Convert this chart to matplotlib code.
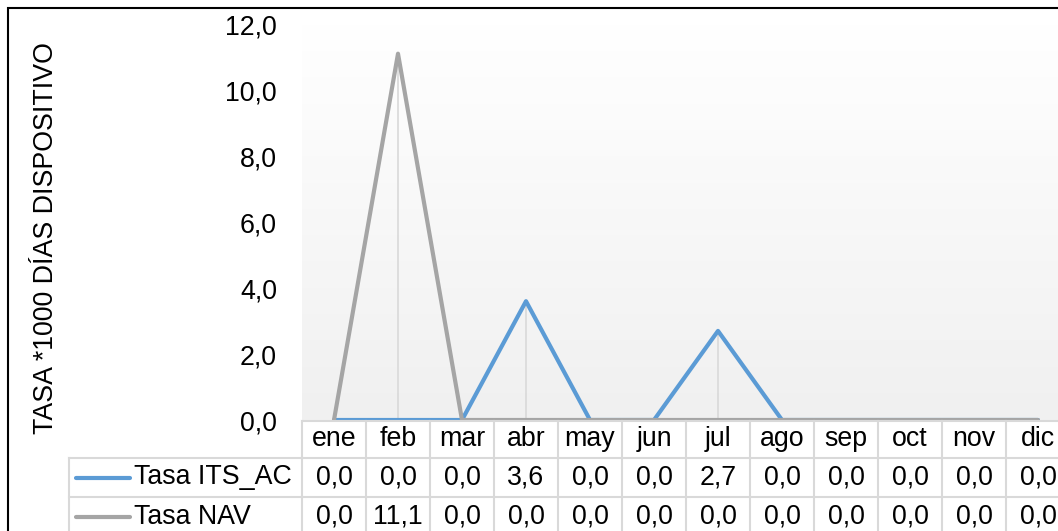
import numpy as np
import matplotlib
matplotlib.use("Agg")
import matplotlib.pyplot as plt
import matplotlib.transforms as mtransforms
from matplotlib.lines import Line2D
from matplotlib.patches import Rectangle
from matplotlib.ticker import FuncFormatter

plt.rcParams['font.family'] = ['Liberation Sans', 'DejaVu Sans']

# datos
meses = ['ene', 'feb', 'mar', 'abr', 'may', 'jun', 'jul', 'ago', 'sep', 'oct', 'nov', 'dic']
tasa_its_ac = [0.0, 0.0, 0.0, 3.6, 0.0, 0.0, 2.7, 0.0, 0.0, 0.0, 0.0, 0.0]
tasa_nav = [0.0, 11.1, 0.0, 0.0, 0.0, 0.0, 0.0, 0.0, 0.0, 0.0, 0.0, 0.0]
series = [('Tasa ITS_AC', tasa_its_ac, '#5B9BD5'), ('Tasa NAV', tasa_nav, '#A5A5A5')]
yticks = [0, 2, 4, 6, 8, 10, 12]

W, H = 1058, 531
FS = 19.3
GRID = '#D9D9D9'

def fy(px):
    return 1 - px / H

def coma(v, pos=None):
    return f'{v:.1f}'.replace('.', ',')

fig = plt.figure(figsize=(W / 100, H / 100), dpi=100)
# plot area: 12 columnas de 64 px desde x=302 (la ultima queda cortada)
ax = fig.add_axes([302 / W, fy(420), 768 / W, (420 - 24) / H])
x = np.arange(len(meses))
ax.set_xlim(-0.5, len(meses) - 0.5)
ax.set_ylim(0, 12)

# fondo degradado
grad = np.linspace(0xF0 / 255, 1.0, 256).reshape(-1, 1)
ax.imshow(np.dstack([grad, grad, grad]), extent=[-0.5, len(meses) - 0.5, 0, 12],
          origin='lower', aspect='auto', zorder=0)

# lineas de caida
tops = np.maximum(tasa_its_ac, tasa_nav)
ax.vlines(x, 0, tops, color=GRID, lw=1.2, zorder=1)

for nombre, vals, col in series:
    ax.plot(x, vals, color=col, lw=3, solid_joinstyle='round', solid_capstyle='round', zorder=2)

for s in ax.spines.values():
    s.set_visible(False)
ax.set_xticks([])
ax.set_yticks(yticks)
ax.yaxis.set_major_formatter(FuncFormatter(coma))
ax.tick_params(axis='y', length=0, pad=18, labelsize=FS)

fig.text(46 / W, fy(238), 'TASA *1000 DÍAS DISPOSITIVO', rotation=90,
         ha='center', va='center', fontsize=FS)

# tabla de datos
bt = mtransforms.blended_transform_factory(ax.transData, fig.transFigure)
row_y = [421, 458, 497, 536]

for y in row_y[:3]:
    fig.add_artist(Line2D([-0.5, len(meses) + 1], [fy(y), fy(y)], color=GRID, lw=1.5, transform=bt))
for y in row_y[1:3]:
    fig.add_artist(Line2D([69 / W, 302 / W], [fy(y), fy(y)], color=GRID, lw=1.5, transform=fig.transFigure))
for b in np.arange(len(meses) + 1) - 0.5:
    fig.add_artist(Line2D([b, b], [fy(421), fy(row_y[3])], color=GRID, lw=1.5, transform=bt))
fig.add_artist(Line2D([69 / W, 69 / W], [fy(458), fy(row_y[3])], color=GRID, lw=1.5, transform=fig.transFigure))

for i, m in enumerate(meses):
    fig.text(i, fy(439), m, transform=bt, ha='center', va='center', fontsize=FS)

for r, (nombre, vals, col) in enumerate(series):
    yc = fy((row_y[r + 1] + row_y[r + 2]) / 2)
    fig.add_artist(Line2D([76 / W, 130 / W], [yc, yc], color=col, lw=3,
                          solid_capstyle='round', transform=fig.transFigure))
    fig.text(134 / W, yc, nombre, ha='left', va='center', fontsize=FS)
    for i, v in enumerate(vals):
        fig.text(i, yc, coma(v), transform=bt, ha='center', va='center', fontsize=FS)

# borde del grafico
fig.add_artist(Rectangle((8 / W, -0.1), 1.2, fy(8) + 0.1, fill=False, ec='black', lw=1.5,
                         transform=fig.transFigure))

fig.savefig('out.png', dpi=100)
